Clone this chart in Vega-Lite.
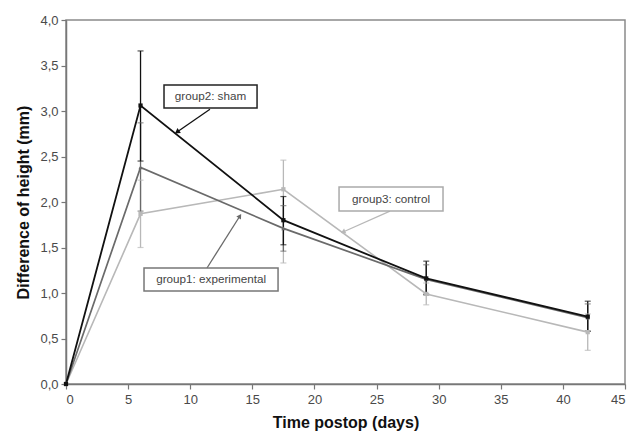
{
  "$schema": "https://vega.github.io/schema/vega-lite/v6.json",
  "width": 559,
  "height": 364,
  "autosize": "none",
  "padding": {"left": 66, "top": 20, "right": 4, "bottom": 50},
  "background": "white",
  "config": {
    "font": "Liberation Sans",
    "view": {"stroke": "#8a8a8a", "strokeWidth": 1.5},
    "axis": {
      "grid": false,
      "domainColor": "#777777",
      "domainWidth": 1.5,
      "tickColor": "#777777",
      "tickSize": 5,
      "tickWidth": 1.2,
      "labelColor": "#4a4a4a",
      "labelFontSize": 13,
      "labelFont": "Liberation Sans",
      "titleFont": "Liberation Sans",
      "titleFontSize": 16,
      "titleFontWeight": "bold",
      "titleColor": "#111111"
    }
  },
  "datasets": {
    "series": [
      {"group": "control", "day": 0, "mean": 0, "lo": null, "hi": null},
      {"group": "control", "day": 6, "mean": 1.87, "lo": 1.50, "hi": 2.24},
      {"group": "control", "day": 17.5, "mean": 2.14, "lo": 1.33, "hi": 2.46},
      {"group": "control", "day": 29, "mean": 0.99, "lo": 0.87, "hi": 1.11},
      {"group": "control", "day": 42, "mean": 0.57, "lo": 0.37, "hi": 0.77},
      {"group": "experimental", "day": 0, "mean": 0, "lo": null, "hi": null},
      {"group": "experimental", "day": 6, "mean": 2.38, "lo": 1.90, "hi": 2.87},
      {"group": "experimental", "day": 17.5, "mean": 1.71, "lo": 1.46, "hi": 1.96},
      {"group": "experimental", "day": 29, "mean": 1.15, "lo": 0.99, "hi": 1.31},
      {"group": "experimental", "day": 42, "mean": 0.73, "lo": 0.58, "hi": 0.88},
      {"group": "sham", "day": 0, "mean": 0, "lo": null, "hi": null},
      {"group": "sham", "day": 6, "mean": 3.06, "lo": 2.45, "hi": 3.66},
      {"group": "sham", "day": 17.5, "mean": 1.80, "lo": 1.53, "hi": 2.06},
      {"group": "sham", "day": 29, "mean": 1.16, "lo": 0.98, "hi": 1.35},
      {"group": "sham", "day": 42, "mean": 0.74, "lo": 0.58, "hi": 0.91}
    ],
    "notes": [
      {"group": "sham", "label": "group2: sham", "bx1": 7.89, "bx2": 15.38, "by1": 3.286, "by2": 3.033, "tx": 11.63, "ty": 3.16, "ax1": 11.59, "ay1": 3.02, "ax2": 8.94, "ay2": 2.77},
      {"group": "control", "label": "group3: control", "bx1": 21.98, "bx2": 30.35, "by1": 2.165, "by2": 1.901, "tx": 26.17, "ty": 2.03, "ax1": 26.08, "ay1": 1.90, "ax2": 22.3, "ay2": 1.67},
      {"group": "experimental", "label": "group1: experimental", "bx1": 6.28, "bx2": 17.07, "by1": 1.275, "by2": 1.022, "tx": 11.68, "ty": 1.15, "ax1": 11.35, "ay1": 1.275, "ax2": 14.0, "ay2": 1.846}
    ]
  },
  "layer": [
    {
      "data": {"name": "series"},
      "transform": [{"filter": "datum.lo != null"}],
      "mark": {"type": "rule", "strokeWidth": 1.3},
      "encoding": {
        "x": {"field": "day", "type": "quantitative", "scale": {"domain": [0, 45], "nice": false}, "title": "Time postop (days)", "axis": {"values": [0,5,10,15,20,25,30,35,40,45], "labelPadding": 4, "titlePadding": 8}},
        "y": {"field": "lo", "type": "quantitative", "scale": {"domain": [0, 4], "nice": false}, "title": "Difference of height (mm)", "axis": {"values": [0,0.5,1,1.5,2,2.5,3,3.5,4], "labelExpr": "replace(format(datum.value, '.1f'), '.', ',')", "labelPadding": 3, "titlePadding": 8}},
        "y2": {"field": "hi"},
        "color": {"field": "group", "type": "nominal", "scale": {"domain": ["control", "experimental", "sham"], "range": ["#b8b8b8", "#6a6a6a", "#111111"]}, "legend": null}
      }
    },
    {
      "data": {"name": "series"},
      "transform": [{"filter": "datum.lo != null"}, {"fold": ["lo", "hi"], "as": ["end", "val"]}],
      "mark": {"type": "tick", "orient": "horizontal", "size": 6, "thickness": 1.2},
      "encoding": {
        "x": {"field": "day", "type": "quantitative", "title": "Time postop (days)"},
        "y": {"field": "val", "type": "quantitative", "title": "Difference of height (mm)"},
        "color": {"field": "group", "type": "nominal", "legend": null}
      }
    },
    {
      "data": {"name": "series"},
      "mark": {"type": "line"},
      "encoding": {
        "x": {"field": "day", "type": "quantitative", "title": "Time postop (days)"},
        "y": {"field": "mean", "type": "quantitative", "title": "Difference of height (mm)"},
        "color": {"field": "group", "type": "nominal", "scale": {"domain": ["control", "experimental", "sham"], "range": ["#a9a9a9", "#5e5e5e", "#111111"]}, "legend": null},
        "strokeWidth": {"field": "group", "type": "nominal", "scale": {"domain": ["control", "experimental", "sham"], "range": [1.6, 1.8, 2.2]}, "legend": null}
      }
    },
    {
      "data": {"name": "series"},
      "mark": {"type": "point", "filled": true, "opacity": 1},
      "encoding": {
        "x": {"field": "day", "type": "quantitative", "title": "Time postop (days)"},
        "y": {"field": "mean", "type": "quantitative", "title": "Difference of height (mm)"},
        "color": {"field": "group", "type": "nominal", "legend": null},
        "shape": {"field": "group", "type": "nominal", "scale": {"domain": ["control", "experimental", "sham"], "range": ["square", "triangle-up", "square"]}, "legend": null},
        "size": {"field": "group", "type": "nominal", "scale": {"domain": ["control", "experimental", "sham"], "range": [18, 18, 36]}, "legend": null}
      }
    },
    {
      "data": {"name": "notes"},
      "mark": {"type": "rule", "strokeWidth": 1.3},
      "encoding": {
        "x": {"field": "ax1", "type": "quantitative", "title": "Time postop (days)"},
        "y": {"field": "ay1", "type": "quantitative", "title": "Difference of height (mm)"},
        "x2": {"field": "ax2"},
        "y2": {"field": "ay2"},
        "color": {"field": "group", "type": "nominal", "legend": null}
      }
    },
    {
      "data": {"name": "notes"},
      "transform": [{"filter": "datum.group == 'sham'"}],
      "mark": {"type": "point", "shape": "triangle-up", "filled": true, "size": 35, "angle": 235, "opacity": 1},
      "encoding": {
        "x": {"field": "ax2", "type": "quantitative", "title": "Time postop (days)"},
        "y": {"field": "ay2", "type": "quantitative", "title": "Difference of height (mm)"},
        "color": {"field": "group", "type": "nominal", "legend": null}
      }
    },
    {
      "data": {"name": "notes"},
      "transform": [{"filter": "datum.group == 'control'"}],
      "mark": {"type": "point", "shape": "triangle-up", "filled": true, "size": 30, "angle": 246, "opacity": 1},
      "encoding": {
        "x": {"field": "ax2", "type": "quantitative", "title": "Time postop (days)"},
        "y": {"field": "ay2", "type": "quantitative", "title": "Difference of height (mm)"},
        "color": {"field": "group", "type": "nominal", "legend": null}
      }
    },
    {
      "data": {"name": "notes"},
      "transform": [{"filter": "datum.group == 'experimental'"}],
      "mark": {"type": "point", "shape": "triangle-up", "filled": true, "size": 30, "angle": 32, "opacity": 1},
      "encoding": {
        "x": {"field": "ax2", "type": "quantitative", "title": "Time postop (days)"},
        "y": {"field": "ay2", "type": "quantitative", "title": "Difference of height (mm)"},
        "color": {"field": "group", "type": "nominal", "legend": null}
      }
    },
    {
      "data": {"name": "notes"},
      "mark": {"type": "rect", "fill": "white", "strokeWidth": 1.5},
      "encoding": {
        "x": {"field": "bx1", "type": "quantitative", "title": "Time postop (days)"},
        "x2": {"field": "bx2"},
        "y": {"field": "by1", "type": "quantitative", "title": "Difference of height (mm)"},
        "y2": {"field": "by2"},
        "stroke": {"field": "group", "type": "nominal", "scale": {"domain": ["control", "experimental", "sham"], "range": ["#aaaaaa", "#777777", "#222222"]}, "legend": null}
      }
    },
    {
      "data": {"name": "notes"},
      "mark": {"type": "text", "fontSize": 11.7, "color": "#444444", "font": "Liberation Sans", "align": "center", "baseline": "middle"},
      "encoding": {
        "x": {"field": "tx", "type": "quantitative", "title": "Time postop (days)"},
        "y": {"field": "ty", "type": "quantitative", "title": "Difference of height (mm)"},
        "text": {"field": "label", "type": "nominal"}
      }
    }
  ]
}
